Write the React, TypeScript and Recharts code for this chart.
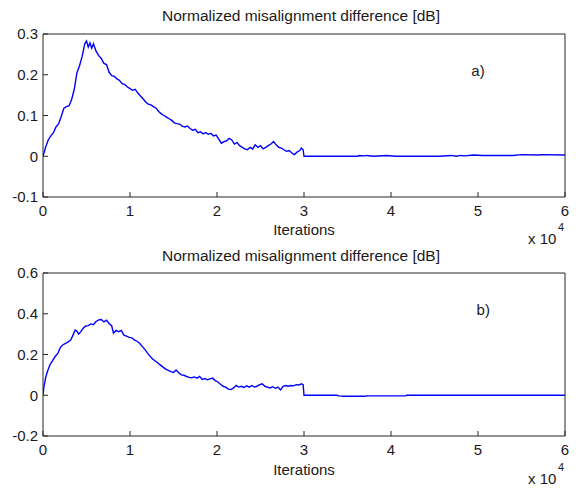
import { LineChart, Line, XAxis, YAxis, ReferenceDot } from 'recharts';

// iterations are in units of 10^4
const iterA = [
  0.0, 0.03, 0.06, 0.09, 0.12, 0.15, 0.18, 0.21, 0.24, 0.27, 0.3, 0.33, 0.36, 0.39, 0.42, 0.45,
  0.48, 0.5, 0.52, 0.54, 0.56, 0.58, 0.61, 0.64, 0.67, 0.7, 0.73, 0.76, 0.79, 0.82, 0.85, 0.88,
  0.91, 0.94, 0.97, 1.0, 1.03, 1.06, 1.09, 1.12, 1.15, 1.18, 1.21, 1.24, 1.27, 1.3, 1.33, 1.36,
  1.39, 1.42, 1.45, 1.48, 1.51, 1.54, 1.57, 1.6, 1.63, 1.66, 1.69, 1.72, 1.75, 1.78, 1.81, 1.84,
  1.87, 1.9, 1.93, 1.96, 1.99, 2.02, 2.05, 2.08, 2.11, 2.14, 2.17, 2.2, 2.23, 2.26, 2.29, 2.32,
  2.35, 2.38, 2.41, 2.44, 2.47, 2.5, 2.53, 2.56, 2.59, 2.62, 2.65, 2.68, 2.71, 2.74, 2.77, 2.8,
  2.83, 2.86, 2.89, 2.92, 2.95, 2.97, 2.99, 3.0, 3.62, 3.63, 3.7, 3.72, 3.8, 3.95, 4.05, 4.55,
  4.7, 4.75, 4.8, 4.85, 4.95, 5.05, 5.3, 5.4, 5.5, 5.7, 5.72, 6.0,
];
const diffA = [
  0.0, 0.022, 0.04, 0.05, 0.058, 0.072, 0.08, 0.098, 0.118, 0.122, 0.124, 0.14, 0.165, 0.205, 0.222, 0.245,
  0.276, 0.283, 0.268, 0.278, 0.265, 0.276, 0.258, 0.247, 0.24, 0.228, 0.225, 0.206, 0.198, 0.196, 0.19, 0.186,
  0.178, 0.176, 0.17, 0.166, 0.162, 0.164, 0.155, 0.148, 0.141, 0.133, 0.128, 0.126, 0.122, 0.118, 0.11, 0.104,
  0.1, 0.096, 0.092, 0.088, 0.082, 0.08, 0.079, 0.074, 0.072, 0.074, 0.068, 0.064, 0.066, 0.058, 0.06, 0.055,
  0.058, 0.054, 0.056, 0.05, 0.052, 0.042, 0.032, 0.036, 0.038, 0.044, 0.04, 0.03, 0.034, 0.026, 0.022, 0.018,
  0.016, 0.022, 0.018, 0.028, 0.022, 0.026, 0.018, 0.022, 0.026, 0.03, 0.036, 0.028, 0.022, 0.02, 0.016, 0.012,
  0.014, 0.008, 0.004, 0.01, 0.014, 0.02, 0.016, 0.0, 0.0, 0.002, 0.001, 0.002, 0.0, 0.002, 0.0, 0.0,
  0.002, 0.0, 0.002, 0.001, 0.003, 0.002, 0.002, 0.002, 0.004, 0.003, 0.004, 0.003, 0.003,
];

const iterB = [
  0.0, 0.01, 0.03, 0.05, 0.08, 0.11, 0.14, 0.17, 0.2, 0.23, 0.26, 0.29, 0.32, 0.35, 0.37, 0.39,
  0.41, 0.43, 0.46, 0.49, 0.52, 0.55, 0.58, 0.61, 0.64, 0.67, 0.7, 0.73, 0.76, 0.79, 0.81, 0.84,
  0.87, 0.9, 0.93, 0.96, 0.99, 1.02, 1.05, 1.08, 1.11, 1.14, 1.17, 1.2, 1.23, 1.26, 1.29, 1.32,
  1.35, 1.38, 1.41, 1.44, 1.47, 1.5, 1.53, 1.56, 1.59, 1.62, 1.65, 1.68, 1.71, 1.74, 1.77, 1.8,
  1.83, 1.86, 1.89, 1.92, 1.95, 1.98, 2.01, 2.04, 2.07, 2.1, 2.13, 2.16, 2.19, 2.22, 2.25, 2.28,
  2.31, 2.34, 2.37, 2.4, 2.43, 2.46, 2.49, 2.52, 2.55, 2.58, 2.61, 2.64, 2.67, 2.7, 2.73, 2.76,
  2.79, 2.82, 2.85, 2.88, 2.91, 2.94, 2.97, 2.99, 3.0, 3.38, 3.4, 3.46, 3.7, 3.72, 4.17, 4.18, 6.0,
];
const diffB = [
  0.0, 0.04, 0.085, 0.115, 0.15, 0.17, 0.19, 0.205, 0.235, 0.248, 0.255, 0.262, 0.272, 0.3, 0.32, 0.315,
  0.3, 0.31, 0.328, 0.34, 0.342, 0.35, 0.346, 0.362, 0.37, 0.372, 0.36, 0.368, 0.352, 0.34, 0.305, 0.318,
  0.312, 0.318, 0.295, 0.29, 0.284, 0.282, 0.272, 0.265, 0.255, 0.24, 0.225, 0.208, 0.192, 0.178, 0.168, 0.158,
  0.148, 0.138, 0.128, 0.122, 0.116, 0.112, 0.124, 0.11, 0.1, 0.098, 0.092, 0.088, 0.086, 0.09, 0.084, 0.092,
  0.078, 0.082, 0.076, 0.08, 0.084, 0.072, 0.065, 0.054, 0.044, 0.04, 0.03, 0.028, 0.036, 0.048, 0.04, 0.044,
  0.038, 0.046, 0.04, 0.048, 0.04, 0.044, 0.052, 0.056, 0.044, 0.04, 0.036, 0.042, 0.034, 0.04, 0.026, 0.044,
  0.048, 0.044, 0.048, 0.046, 0.052, 0.05, 0.056, 0.052, 0.0, 0.0, -0.003, -0.005, -0.005, -0.003, -0.003, 0.0, 0.0,
];

const xTicks = [0, 1, 2, 3, 4, 5, 6];
const yTicksA = [-0.1, 0, 0.1, 0.2, 0.3];
const yTicksB = [-0.2, 0, 0.2, 0.4, 0.6];

const TITLE = 'Normalized misalignment difference [dB]';
const FONT = '"Liberation Sans", Arial, sans-serif';
const AXIS = '#262626';
const BLUE = '#0000ff';

const toRows = (xs: number[], ys: number[]) => xs.map((x, i) => ({ x, y: ys[i] }));

const fmtY = (v: number) => (v === 0 ? '0' : String(v));

type PanelProps = {
  rows: { x: number; y: number }[];
  yTicks: number[];
  margin: { top: number; right: number; bottom: number; left: number };
  tag: string;
  tagAt: [number, number];
};

const tickStyle = { fill: '#1a1a1a', fontSize: 15, fontFamily: FONT };

// boxed axes with inward ticks on all four sides
const Panel = ({ rows, yTicks, margin, tag, tagAt }: PanelProps) => {
  const dom: [number, number] = [yTicks[0], yTicks[yTicks.length - 1]];
  return (
    <LineChart width={580} height={244} data={rows} margin={margin}>
      <XAxis
        xAxisId="b"
        dataKey="x"
        type="number"
        domain={[0, 6]}
        ticks={xTicks}
        allowDataOverflow
        height={30}
        stroke={AXIS}
        tickSize={-5}
        tickMargin={13}
        tick={tickStyle}
      />
      <XAxis
        xAxisId="t"
        orientation="top"
        dataKey="x"
        type="number"
        domain={[0, 6]}
        ticks={xTicks}
        height={1}
        stroke={AXIS}
        tickSize={-5}
        tick={false}
      />
      <YAxis
        yAxisId="l"
        type="number"
        domain={dom}
        ticks={yTicks}
        allowDataOverflow
        width={43}
        stroke={AXIS}
        tickSize={-5}
        tickMargin={10}
        tickFormatter={fmtY}
        tick={tickStyle}
      />
      <YAxis
        yAxisId="r"
        orientation="right"
        type="number"
        domain={dom}
        ticks={yTicks}
        width={1}
        stroke={AXIS}
        tickSize={-5}
        tick={false}
      />
      <Line
        xAxisId="b"
        yAxisId="l"
        dataKey="y"
        type="linear"
        stroke={BLUE}
        strokeWidth={1.4}
        dot={false}
        isAnimationActive={false}
      />
      <ReferenceDot
        xAxisId="b"
        yAxisId="l"
        x={tagAt[0]}
        y={tagAt[1]}
        r={0}
        fill="none"
        stroke="none"
        label={{ value: tag, position: 'center', fill: '#1a1a1a', fontSize: 15, fontFamily: FONT }}
      />
    </LineChart>
  );
};

const txt = (top: number, left: number, size: number, text: string, width?: number) => (
  <div
    style={{
      position: 'absolute',
      top,
      left,
      width,
      textAlign: width ? 'center' : 'left',
      fontSize: size,
      lineHeight: `${size}px`,
      fontFamily: FONT,
      color: '#1a1a1a',
      whiteSpace: 'nowrap',
    }}
  >
    {text}
  </div>
);

export default function App() {
  return (
    <div style={{ position: 'absolute', top: 0, left: 0, width: 580, height: 488, background: '#fff' }}>
      <div style={{ position: 'absolute', top: 0, left: 0 }}>
        <Panel
          rows={toRows(iterA, diffA)}
          yTicks={yTicksA}
          margin={{ top: 33, right: 14, bottom: 17, left: 0 }}
          tag="a)"
          tagAt={[5.0, 0.21]}
        />
      </div>
      <div style={{ position: 'absolute', top: 244, left: 0 }}>
        <Panel
          rows={toRows(iterB, diffB)}
          yTicks={yTicksB}
          margin={{ top: 28, right: 14, bottom: 22, left: 0 }}
          tag="b)"
          tagAt={[5.06, 0.42]}
        />
      </div>
      {txt(8, 40, 15.5, TITLE, 522)}
      {txt(222, 43, 15, 'Iterations', 522)}
      {txt(231, 528, 15, 'x 10')}
      {txt(222, 558, 11, '4')}
      {txt(248, 40, 15.5, TITLE, 522)}
      {txt(462, 43, 15, 'Iterations', 522)}
      {txt(471, 528, 15, 'x 10')}
      {txt(462, 558, 11, '4')}
    </div>
  );
}
